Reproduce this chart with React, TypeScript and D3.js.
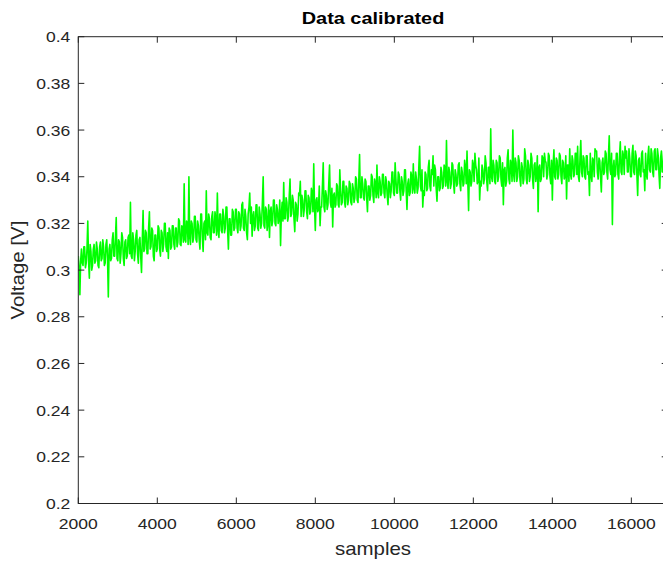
import React from "react";
import * as d3 from "d3";

// ---- data ----
const sampleStart = 2000;
const sampleStep = 20;
// voltage in millivolts, one value every `sampleStep` samples
const voltage_mV = [
  306, 301, 289.5, 304, 309, 303, 302, 310, 310, 301, 303, 309, 321, 304, 296.5, 311, 308, 300, 302, 309,
  311, 303, 304, 312, 309, 302, 301, 310, 312, 304, 305, 313, 310, 302, 303, 311, 313, 305, 288.5, 309,
  311, 304, 305, 313, 316, 306, 306, 314, 322.5, 305, 304, 313, 312, 303, 307, 316, 314, 305, 302, 312,
  313, 305, 306, 314, 315, 307, 329, 306, 305, 316, 313, 304, 308, 315, 317, 307, 303, 313, 314, 306,
  299, 313, 325.5, 308, 309, 317, 316, 307, 307, 318, 325, 309, 310, 318, 317, 306, 304, 315, 315, 308,
  309, 319, 318, 309, 306, 317, 316, 308, 311, 320, 320, 310, 308, 316, 305, 318, 317, 309, 310, 319,
  319, 311, 309, 318, 318, 310, 312, 322, 321, 311, 310.5, 319, 318, 312, 337, 313, 312, 321, 320, 311,
  340, 314, 311, 321, 320, 312, 314, 323, 323, 313, 312, 321, 319, 313, 309, 324, 324, 314, 308, 320,
  321, 313, 334, 316, 315, 324, 322, 314, 313, 323, 325, 316, 316, 325, 322, 315, 333, 317, 314, 324,
  324, 317, 316, 326, 323, 316, 318, 327, 327, 317, 309, 322, 322, 315, 315, 326, 325, 317, 318, 326,
  326, 318, 316, 325, 324, 317, 319, 328, 329, 318, 317, 326, 323, 316, 313, 324, 327, 333, 320, 327,
  314.5, 323, 325, 317, 319, 328, 328, 318, 317, 327, 324, 318, 320, 329, 340, 319, 318, 327, 326, 317,
  320, 328, 314, 325, 327, 319, 321, 330, 330, 320, 319, 328, 326, 320, 322, 330, 310.5, 324, 329, 321,
  337.5, 322, 322, 331, 329, 321, 323, 332, 339, 323, 324, 332, 330, 322, 316.5, 329, 328, 321, 324, 333,
  332, 338, 323, 332, 330, 323, 326, 334, 334, 325, 322, 332, 331, 324, 325, 335, 333, 325, 345.5, 327,
  317, 330, 331, 325, 326, 336, 319, 327, 327, 336, 346, 327, 325, 334, 332, 326, 328, 337, 345, 329,
  327, 335, 318.5, 332, 333, 327, 328, 337, 336, 328, 327, 343, 334, 328, 329, 338, 338, 329, 327, 336,
  335, 328, 330, 338, 337, 329, 328, 337, 335, 329, 331, 340, 339, 330, 329, 338, 349.5, 331, 331, 340,
  337, 331, 330, 339, 338, 331, 325, 336, 336, 330, 332, 341, 340, 332, 329, 339, 337, 331, 345, 333,
  331, 340, 338, 332, 333, 341, 341, 333, 331, 340, 338, 332, 328, 338, 337, 331, 334, 342, 342, 333,
  332, 346, 339, 333, 333, 342, 341, 334, 330, 340, 338, 332, 334, 343, 343, 334, 326, 337, 339, 332,
  333, 342, 340, 333, 345.5, 335, 333, 342, 339, 333, 335, 344, 353, 336, 334, 343, 327, 334, 332, 342,
  341, 334, 335, 344, 347, 336, 334, 343, 341, 349, 336, 345, 343, 335, 329.5, 340, 340, 334, 335, 344,
  342, 335, 336, 345, 344, 336, 355.5, 338, 335, 344, 342, 335, 337, 346, 345, 337, 333, 343, 341, 336,
  337, 345, 346, 337, 334, 344, 342, 336, 337, 347, 344, 337, 351, 338, 325.5, 343, 342, 336, 338, 347,
  345, 338, 350, 345, 343, 337, 338, 348, 330, 338, 336, 345, 343, 337, 339, 349, 346, 338, 334, 344,
  344, 337, 360.5, 340, 338, 347, 345, 338, 337, 347, 346, 338, 340, 349, 348, 339, 336, 346, 328, 343,
  344, 336, 338, 348, 351.5, 339, 337, 347, 345, 338, 360, 341, 338, 348, 346, 338, 340, 349, 347, 339,
  336, 346, 344, 337, 339, 352, 349, 339, 337, 347, 345, 338, 340, 350, 348, 339, 335, 345, 346, 338,
  341, 349, 325, 344, 345, 338, 339, 349, 348, 340, 350, 347, 346, 339, 341, 350, 349, 340, 337, 347,
  330, 345, 351.5, 340, 339, 348, 347, 339, 341, 350, 349, 340, 337, 347, 346, 339, 340, 349, 330.5, 345,
  345, 338, 352, 341, 339, 349, 347, 340, 341, 350, 350, 341, 353, 340, 338, 348, 355.5, 342, 340, 349,
  348, 340, 339, 349, 349, 341, 342, 332, 350, 341, 338, 348, 347, 340, 352, 351, 351, 342, 339, 348,
  347, 340, 333.5, 346, 348, 341, 342, 351, 350, 342, 339, 349, 357.5, 343, 341, 350, 319.5, 344, 347, 340,
  341, 350, 350, 341, 339, 349, 355, 342, 341, 351, 349, 341, 353, 348, 351, 342, 342, 352, 348, 340,
  340, 350, 353.5, 342, 341, 351, 349, 341, 332, 347, 348, 341, 340, 350, 351, 342, 343, 334, 350, 341,
  339, 349, 353, 343, 342, 352, 350, 342, 340, 351, 352, 343, 343, 352, 349, 341, 335, 348, 351, 342,
  342, 351, 350, 343, 345,
];

const xDomain = [2000, 16920];
const yDomain = [0.2, 0.4];
const xTicks = [2000, 4000, 6000, 8000, 10000, 12000, 14000, 16000];
const xTickLabels = ["2000", "4000", "6000", "8000", "10000", "12000", "14000", "16000"];
const yTicks = [0.2, 0.22, 0.24, 0.26, 0.28, 0.3, 0.32, 0.34, 0.36, 0.38, 0.4];
const yTickLabels = ["0.2", "0.22", "0.24", "0.26", "0.28", "0.3", "0.32", "0.34", "0.36", "0.38", "0.4"];
const titleText = "Data calibrated";
const xLabelText = "samples";
const yLabelText = "Voltage [V]";

const W = 663;
const H = 563;
const L = 78.3;
const R = 667.7;
const T = 36.7;
const B = 503.5;
const axisColor = "#262626";
const font = "'Liberation Sans', Arial, Helvetica, sans-serif";
const tickLen = 6;
const stretch = 1.17;

export default function App() {
  const x = d3.scaleLinear().domain(xDomain).range([L, R]);
  const y = d3.scaleLinear().domain(yDomain).range([B, T]);
  const line = d3
    .line<number>()
    .x((_, i) => x(sampleStart + i * sampleStep))
    .y((v) => y(v / 1000));
  const path = line(voltage_mV) || "";

  return (
    <svg
      width={W}
      height={H}
      style={{ position: "absolute", left: 0, top: 0, background: "#fff" }}
      fontFamily={font}
    >
      <rect x={0} y={0} width={W} height={H} fill="#fff" />
      <defs>
        <clipPath id="plotClip">
          <rect x={L} y={T} width={R - L} height={B - T} />
        </clipPath>
      </defs>
      <path
        d={path}
        fill="none"
        stroke="#00ff00"
        strokeWidth={1.6}
        strokeLinejoin="round"
        clipPath="url(#plotClip)"
      />
      {/* box */}
      <rect x={L} y={T} width={R - L} height={B - T} fill="none" stroke={axisColor} strokeWidth={1} />
      {/* x ticks */}
      {xTicks.map((t, i) => (
        <g key={"xt" + i}>
          <line x1={x(t)} x2={x(t)} y1={B} y2={B - tickLen} stroke={axisColor} />
          <line x1={x(t)} x2={x(t)} y1={T} y2={T + tickLen} stroke={axisColor} />
          <text
            transform={`translate(${x(t)}, ${B + 25}) scale(${stretch}, 1)`}
            textAnchor="middle"
            fontSize={15}
            fill={axisColor}
          >
            {xTickLabels[i]}
          </text>
        </g>
      ))}
      {/* y ticks */}
      {yTicks.map((t, i) => (
        <g key={"yt" + i}>
          <line x1={L} x2={L + tickLen} y1={y(t)} y2={y(t)} stroke={axisColor} />
          <line x1={R} x2={R - tickLen} y1={y(t)} y2={y(t)} stroke={axisColor} />
          <text
            transform={`translate(${L - 8}, ${y(t) + 5.5}) scale(${stretch}, 1)`}
            textAnchor="end"
            fontSize={15}
            fill={axisColor}
          >
            {yTickLabels[i]}
          </text>
        </g>
      ))}
      <text
        transform={`translate(373, 24) scale(${stretch}, 1)`}
        textAnchor="middle"
        fontSize={17}
        fontWeight="bold"
        fill="#000"
      >
        {titleText}
      </text>
      <text
        transform={`translate(373, 555) scale(${stretch}, 1)`}
        textAnchor="middle"
        fontSize={17.5}
        fill={axisColor}
      >
        {xLabelText}
      </text>
      <text
        transform={`translate(24, ${(T + B) / 2}) rotate(-90) scale(${stretch}, 1)`}
        textAnchor="middle"
        fontSize={17.5}
        fill={axisColor}
      >
        {yLabelText}
      </text>
    </svg>
  );
}
